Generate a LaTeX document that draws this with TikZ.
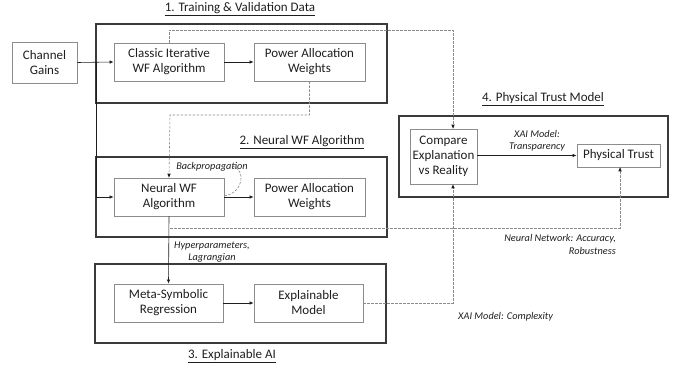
\documentclass[tikz,border=0pt]{standalone}
\usepackage{fontspec}
\setmainfont{Carlito}
\usetikzlibrary{arrows.meta,calc}
\definecolor{outer}{HTML}{3A3A3A}
\definecolor{inner}{HTML}{8C8C8C}
\definecolor{dash}{HTML}{8A8A8A}
\definecolor{txt}{HTML}{1E1E1E}
\tikzset{
  box/.style={draw=inner, line width=0.8pt, minimum width=#1, align=center, inner sep=0pt,
    text=txt, font=\fontsize{13}{15}\selectfont},
  group/.style={draw=outer, line width=1.1pt},
  title/.style={text=txt, font=\fontsize{13}{15}\selectfont},
  lbl/.style={text=txt, font=\fontsize{10.3}{12.5}\selectfont\itshape, inner sep=0pt},
  arr/.style={draw=txt, line width=0.6pt, -{Latex[length=4pt,width=3.5pt]}},
  dsh/.style={draw=dash, line width=0.6pt, dash pattern=on 2.5pt off 1.5pt},
}
\begin{document}
\begin{tikzpicture}[x=1pt,y=-1pt]
\useasboundingbox (0,0) rectangle (681,371);
% groups
\draw[group] (96,24) rectangle (387,103);
\draw[group] (96,157) rectangle (387,237);
\draw[group] (95,264) rectangle (386,343);
\draw[group] (399,116) rectangle (668,197);
% titles
\node[title] (t1) at (240,9.5) {\underline{1. Training \& Validation Data}};
\node[title] (t2) at (302,142.5) {\underline{2. Neural WF Algorithm}};
\node[title] (t3) at (232,356) {\underline{3. Explainable AI}};
\node[title] (t4) at (543,99.5) {\underline{4. Physical Trust Model}};
% nodes
\node[box=65pt, minimum height=41pt] (cg) at (44.5,62.5) {Channel\\Gains};
\node[box=110pt, minimum height=38pt] (classic) at (169,62) {Classic Iterative\\WF Algorithm};
\node[box=111pt, minimum height=38pt] (paw1) at (309.5,62) {Power Allocation\\Weights};
\node[box=110pt, minimum height=38pt] (neural) at (169,197) {Neural WF\\Algorithm};
\node[box=111pt, minimum height=38pt] (paw2) at (309.5,197) {Power Allocation\\Weights};
\node[box=109pt, minimum height=38pt] (meta) at (168.5,303) {Meta-Symbolic\\Regression};
\node[box=109pt, minimum height=38pt] (expl) at (308.5,303) {Explainable\\Model};
\node[box=67pt, minimum height=55pt] (compare) at (443.5,156.5) {Compare\\Explanation\\vs Reality};
\node[box=83pt, minimum height=23pt] (trust) at (618.5,155.5) {Physical Trust};
% coordinates
\coordinate (j1) at (96,62);
\coordinate (c1) at (453,30);
\coordinate (c2) at (170,115);
\coordinate (c3) at (170,228);
\coordinate (c4) at (620,228);
\coordinate (c5) at (453,303);
\coordinate (bp) at (232,166);
% solid connectors
\draw[arr] (cg.east) -- (classic.west);
\draw[arr] (j1) |- (neural.west);
\draw[arr] (classic.east) -- (paw1.west);
\draw[arr] (neural.east) -- (paw2.west);
\draw[arr] (neural.south) -- (meta.north);
\draw[arr] (meta.east) -- (expl.west);
\draw[arr] (compare.east |- trust.west) -- (trust.west);
% dashed connectors
\draw[dsh] (classic.north) |- (c1) -- (c1 |- compare.north);
\draw[dsh] (paw1.south) |- (c2) -- (neural.north);
\draw[dsh] (c3) -- (c4) -- (c4 |- trust.south);
\draw[dsh] (expl.east) -- (c5) -- (c5 |- compare.south);
\draw[dsh] ($(neural.east)+(0,-1)$) .. controls (243,193) and (247,170) .. (bp);
% arrow heads on dashed lines
\fill[txt] (c1 |- compare.north) -- ++(-1.75,-4) -- ++(3.5,0) -- cycle;
\fill[txt] (neural.north) -- ++(-1.75,-4) -- ++(3.5,0) -- cycle;
\fill[txt] (c4 |- trust.south) -- ++(-1.75,4) -- ++(3.5,0) -- cycle;
\fill[txt] (c5 |- compare.south) -- ++(-1.75,4) -- ++(3.5,0) -- cycle;
% labels
\node[lbl] (lbp) at (212,167) {Backpropagation};
\node[lbl, align=center] (lhp) at (212,252) {Hyperparameters,\\Lagrangian};
\node[lbl, align=right, anchor=east] (lnn) at (616,244.5) {Neural Network: Accuracy,\\Robustness};
\node[lbl, anchor=west] (lxc) at (458,317) {XAI Model: Complexity};
\node[lbl, align=center] (lxt) at (537,141) {XAI Model:\\Transparency};
\end{tikzpicture}
\end{document}
